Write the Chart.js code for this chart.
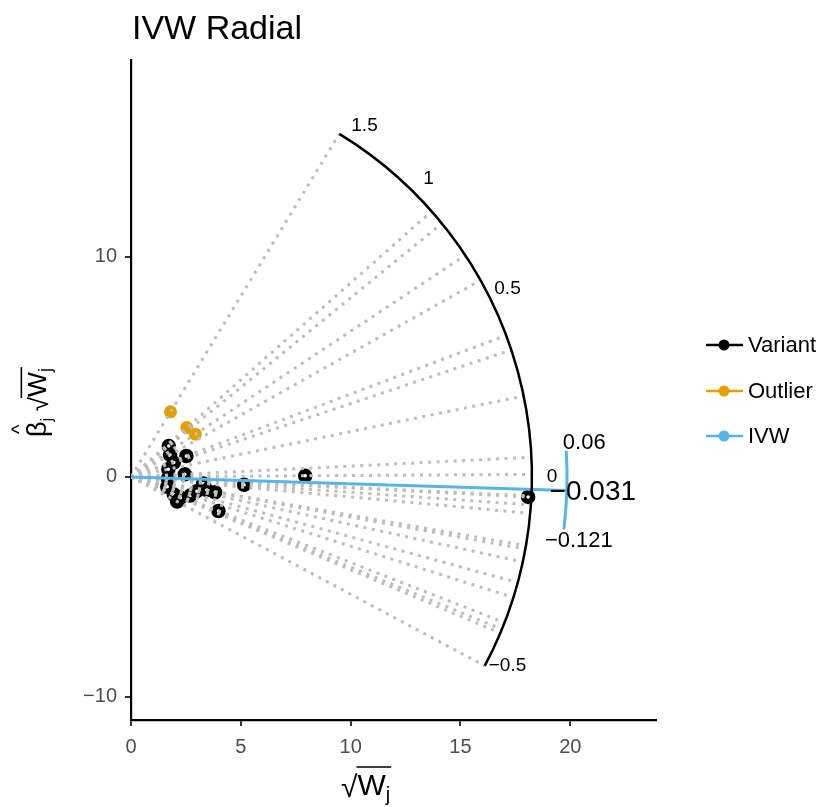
<!DOCTYPE html>
<html>
<head>
<meta charset="utf-8">
<script src="https://cdn.jsdelivr.net/npm/chart.js@4"></script>
<style>
  body { margin: 0; background: #fff; }
  #wrap { width: 828px; height: 807px; position: relative; }
</style>
</head>
<body>
<div id="wrap"><canvas id="radialChart"></canvas></div>
<script>
// data
const variantX = [1.72, 1.78, 1.95, 2.52, 1.70, 2.45, 1.68, 1.65, 1.95, 2.10, 2.25, 2.70, 3.00, 3.29, 3.45, 3.83, 3.98, 5.15, 7.93, 18.08];
const variantY = [1.40, 1.00, 0.65, 0.95, 0.35, 0.12, -0.08, -0.45, -0.80, -1.12, -0.95, -0.85, -0.65, -0.30, -0.60, -0.70, -1.55, -0.36, 0.05, -0.91];
const outlierX = [1.80, 2.54, 2.93];
const outlierY = [2.96, 2.24, 1.94];
const ivwEstimate = -0.031;
const ivwUpper = 0.06;
const ivwLower = -0.121;
const scaleTicks = [1.5, 1, 0.5, 0, -0.5];
const xTicks = [0, 5, 10, 15, 20];
const yTicks = [-10, 0, 10];
const legendLabels = ["Variant", "Outlier", "IVW"];

const SCALE_R = 18.25;
const IVW_R = 19.85;
const FONT = "'Liberation Sans', Arial, sans-serif";

const fmt = v => String(v).replace("-", "\u2212");

const variantPts = variantX.map((x, i) => ({ x, y: variantY[i] }));
const outlierPts = outlierX.map((x, i) => ({ x, y: outlierY[i] }));
const allPts = variantPts.concat(outlierPts);
const ratios = allPts.map(p => p.y / p.x);
const minRatio = Math.min(...ratios);
const maxRatio = Math.max(...ratios);

// one dotted ray per variant, from the origin to the scale arc
const rayDatasets = ratios.map(r => {
    const a = Math.atan(r);
    return {
        data: [{ x: 0, y: 0 }, { x: SCALE_R * Math.cos(a), y: SCALE_R * Math.sin(a) }],
        showLine: true,
        borderColor: "#bdbdbd",
        borderWidth: 3,
        borderDash: [3, 5.5],
        pointRadius: 0,
        order: 3
    };
});

const ivwAngle = Math.atan(ivwEstimate);

const radialPlugin = {
    id: "radial",
    afterDatasetsDraw(chart) {
        const { ctx, scales: { x, y } } = chart;
        const cx = x.getPixelForValue(0);
        const cy = y.getPixelForValue(0);
        const toPx = (r, a) => [x.getPixelForValue(r * Math.cos(a)), y.getPixelForValue(r * Math.sin(a))];

        ctx.save();
        // scale arc
        ctx.strokeStyle = "#000";
        ctx.lineWidth = 2.5;
        ctx.beginPath();
        ctx.ellipse(cx, cy, x.getPixelForValue(SCALE_R) - cx, cy - y.getPixelForValue(SCALE_R), 0,
            -Math.atan(maxRatio), -Math.atan(minRatio));
        ctx.stroke();

        // scale labels
        ctx.fillStyle = "#000";
        ctx.font = "19px " + FONT;
        ctx.textAlign = "center";
        ctx.textBaseline = "middle";
        scaleTicks.forEach(t => {
            const [lx, ly] = toPx(SCALE_R * 1.05, Math.atan(t));
            ctx.fillText(fmt(t), lx, ly);
        });

        // IVW confidence arc
        ctx.strokeStyle = "#56B4E9";
        ctx.lineWidth = 3;
        ctx.beginPath();
        ctx.ellipse(cx, cy, x.getPixelForValue(IVW_R) - cx, cy - y.getPixelForValue(IVW_R), 0,
            -Math.atan(ivwUpper), -Math.atan(ivwLower));
        ctx.stroke();

        const [ux, uy] = toPx(IVW_R, Math.atan(ivwUpper));
        const [lx, ly] = toPx(IVW_R, Math.atan(ivwLower));
        const [ex, ey] = toPx(IVW_R, ivwAngle);
        ctx.font = "22px " + FONT;
        ctx.fillText(fmt(ivwUpper), ux + 18, uy - 8);
        ctx.fillText(fmt(ivwLower), lx + 15, ly + 12);
        ctx.font = "28px " + FONT;
        ctx.fillText(fmt(ivwEstimate), ex + 26, ey + 2);
        ctx.restore();
    },
    afterDraw(chart) {
        const { ctx } = chart;
        ctx.save();
        // title
        ctx.fillStyle = "#000";
        ctx.font = "34px " + FONT;
        ctx.textAlign = "left";
        ctx.textBaseline = "alphabetic";
        ctx.fillText("IVW Radial", 132, 39);

        // legend
        const colors = ["#000000", "#E69F00", "#56B4E9"];
        const ys = [345, 391, 436];
        ctx.font = "22px " + FONT;
        ctx.textBaseline = "middle";
        legendLabels.forEach((lab, i) => {
            ctx.strokeStyle = colors[i];
            ctx.fillStyle = colors[i];
            ctx.lineWidth = 2.5;
            ctx.beginPath();
            ctx.moveTo(706, ys[i]);
            ctx.lineTo(743, ys[i]);
            ctx.stroke();
            ctx.beginPath();
            ctx.arc(724, ys[i], 5.5, 0, Math.PI * 2);
            ctx.fill();
            ctx.fillStyle = "#000";
            ctx.fillText(lab, 748, ys[i] + 1);
        });

        // x title: sqrt(W_j)
        drawSqrtW(ctx, 341, 795);

        // y title: beta-hat_j sqrt(W_j), rotated
        ctx.translate(46, 437);
        ctx.rotate(-Math.PI / 2);
        ctx.font = "27px " + FONT;
        ctx.textBaseline = "alphabetic";
        ctx.fillStyle = "#000";
        ctx.fillText("\u03B2", 0, 0);
        const bw = ctx.measureText("\u03B2").width;
        ctx.font = "20px " + FONT;
        ctx.fillText("^", 3, -20);
        ctx.font = "17px " + FONT;
        ctx.fillText("j", bw, 6);
        drawSqrtW(ctx, bw + 10, 0, 0.88);
        ctx.restore();
    }
};

function drawSqrtW(ctx, x0, base, s = 1) {
    ctx.save();
    ctx.fillStyle = "#000";
    ctx.textAlign = "left";
    ctx.textBaseline = "alphabetic";
    ctx.font = (30 * s) + "px " + FONT;
    ctx.fillText("\u221A", x0, base + 2 * s);
    const rw = ctx.measureText("\u221A").width;
    ctx.fillText("W", x0 + rw, base);
    const ww = ctx.measureText("W").width;
    ctx.font = (20 * s) + "px " + FONT;
    ctx.fillText("j", x0 + rw + ww, base + 6 * s);
    const jw = ctx.measureText("j").width;
    ctx.strokeStyle = "#000";
    ctx.lineWidth = 1.6;
    ctx.beginPath();
    ctx.moveTo(x0 + rw - 1, base - 28 * s);
    ctx.lineTo(x0 + rw + ww + jw + 1, base - 28 * s);
    ctx.stroke();
    ctx.restore();
}

const tickFont = { family: FONT, size: 20 };

new Chart(document.getElementById("radialChart"), {
    type: "scatter",
    data: {
        datasets: [
            {
                data: variantPts,
                pointRadius: 4.5,
                pointBorderWidth: 5.5,
                pointBackgroundColor: "#fff",
                pointBorderColor: "#000",
                order: 5
            },
            {
                data: outlierPts,
                pointRadius: 6.5,
                pointBorderWidth: 0,
                pointBackgroundColor: "#E69F00",
                order: 5
            },
            ...rayDatasets,
            {
                data: [{ x: 0, y: 0 }, { x: IVW_R * Math.cos(ivwAngle), y: IVW_R * Math.sin(ivwAngle) }],
                showLine: true,
                borderColor: "#56B4E9",
                borderWidth: 3,
                pointRadius: 0,
                order: 1
            }
        ]
    },
    options: {
        responsive: true,
        maintainAspectRatio: false,
        animation: false,
        layout: { padding: { top: 60, right: 172, left: 0, bottom: 0 } },
        plugins: {
            legend: { display: false },
            tooltip: { enabled: false }
        },
        scales: {
            x: {
                type: "linear",
                min: 0,
                max: 23.9,
                afterBuildTicks: s => { s.ticks = xTicks.map(v => ({ value: v })); },
                afterFit: s => { s.height = 87; },
                border: { display: true, color: "#000", width: 2.2 },
                grid: { drawOnChartArea: false, drawTicks: true, tickLength: 6, color: "#333", lineWidth: 2 },
                ticks: { color: "#4d4d4d", font: tickFont, padding: 9, maxRotation: 0, callback: v => fmt(v) }
            },
            y: {
                type: "linear",
                min: -11.05,
                max: 18.95,
                afterBuildTicks: s => { s.ticks = yTicks.map(v => ({ value: v })); },
                afterFit: s => { s.width = 131; },
                border: { display: true, color: "#000", width: 2.2 },
                grid: { drawOnChartArea: false, drawTicks: true, tickLength: 6, color: "#333", lineWidth: 2 },
                ticks: { color: "#4d4d4d", font: tickFont, padding: 8, callback: v => fmt(v) }
            }
        }
    },
    plugins: [radialPlugin]
});
</script>
</body>
</html>
